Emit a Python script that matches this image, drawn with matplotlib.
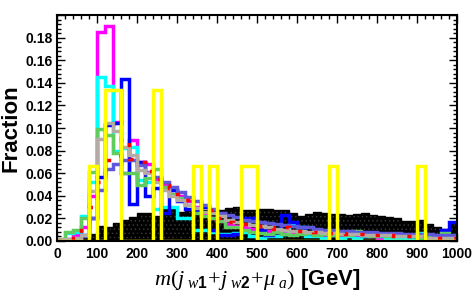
#!/usr/bin/env python3
"""Invariant mass m(j_w1 + j_w2 + mu_a) - normalised shapes, ROOT style."""
import numpy as np
import matplotlib
matplotlib.use("Agg")
import matplotlib.pyplot as plt
from matplotlib.ticker import MultipleLocator, FixedLocator

# 50 bins of 20 GeV, 0-1000
edges = np.arange(0, 1001, 20)

bkg_black = [0.0, 0.0, 0.001, 0.004, 0.006, 0.013, 0.012, 0.016, 0.019, 0.021,
             0.025, 0.025, 0.022, 0.028, 0.028, 0.026, 0.028, 0.026, 0.027, 0.028,
             0.027, 0.029, 0.030, 0.027, 0.027, 0.028, 0.028, 0.027, 0.027, 0.025,
             0.022, 0.024, 0.026, 0.025, 0.024, 0.024, 0.023, 0.024, 0.025, 0.023,
             0.022, 0.021, 0.020, 0.018, 0.018, 0.019, 0.015, 0.012, 0.011, 0.017]

sig_yellow = [0, 0, 0, 0, 0.0667, 0, 0.1333, 0.1333, 0, 0,
              0, 0, 0.1333, 0, 0, 0, 0, 0.0667, 0, 0.0667,
              0, 0, 0, 0.0667, 0.0667, 0, 0, 0, 0, 0,
              0, 0, 0, 0, 0.0667, 0, 0, 0, 0, 0,
              0, 0, 0, 0, 0, 0.0667, 0, 0, 0, 0]

sig_magenta = [0.0, 0.002, 0.005, 0.012, 0.040, 0.185, 0.190, 0.105, 0.060, 0.089,
               0.070, 0.068, 0.055, 0.050, 0.045, 0.040, 0.035, 0.030, 0.025, 0.020,
               0.018, 0.015, 0.013, 0.012, 0.011, 0.010, 0.009, 0.008, 0.008, 0.007,
               0.007, 0.006, 0.006, 0.005, 0.005, 0.005, 0.004, 0.004, 0.004, 0.004,
               0.003, 0.003, 0.003, 0.003, 0.003, 0.002, 0.002, 0.002, 0.002, 0.002]

sig_cyan = [0.0, 0.007, 0.008, 0.022, 0.052, 0.145, 0.137, 0.080, 0.082, 0.083,
            0.054, 0.052, 0.028, 0.030, 0.030, 0.020, 0.020, 0.010, 0.010, 0.008,
            0.006, 0.006, 0.007, 0.008, 0.004, 0.003, 0.004, 0.004, 0.006, 0.014,
            0.012, 0.004, 0.004, 0.003, 0.005, 0.003, 0.004, 0.003, 0.004, 0.005,
            0.004, 0.003, 0.002, 0.003, 0.003, 0.007, 0.003, 0.002, 0.002, 0.003]

sig_blue = [0.0, 0.0, 0.002, 0.005, 0.020, 0.057, 0.103, 0.104, 0.143, 0.033,
            0.070, 0.040, 0.047, 0.025, 0.045, 0.035, 0.028, 0.027, 0.030, 0.010,
            0.005, 0.005, 0.006, 0.020, 0.020, 0.010, 0.005, 0.008, 0.023, 0.017,
            0.012, 0.007, 0.006, 0.006, 0.005, 0.006, 0.007, 0.006, 0.005, 0.006,
            0.005, 0.006, 0.005, 0.005, 0.004, 0.003, 0.004, 0.004, 0.010, 0.017]

sig_red = [0.0, 0.0, 0.003, 0.010, 0.030, 0.052, 0.072, 0.075, 0.091, 0.073,
           0.070, 0.062, 0.055, 0.050, 0.047, 0.042, 0.036, 0.036, 0.030, 0.027,
           0.020, 0.017, 0.016, 0.015, 0.014, 0.013, 0.012, 0.011, 0.012, 0.010,
           0.009, 0.009, 0.008, 0.008, 0.007, 0.007, 0.006, 0.006, 0.006, 0.005,
           0.005, 0.005, 0.004, 0.004, 0.004, 0.004, 0.003, 0.003, 0.003, 0.003]

sig_green = [0.002, 0.008, 0.010, 0.020, 0.061, 0.099, 0.094, 0.078, 0.060, 0.060,
             0.050, 0.056, 0.064, 0.048, 0.042, 0.038, 0.032, 0.025, 0.022, 0.020,
             0.018, 0.012, 0.012, 0.010, 0.008, 0.007, 0.006, 0.008, 0.006, 0.005,
             0.006, 0.007, 0.005, 0.006, 0.005, 0.006, 0.005, 0.009, 0.005, 0.004,
             0.005, 0.004, 0.004, 0.005, 0.004, 0.003, 0.004, 0.003, 0.007, 0.004]

sig_slate = [0.0, 0.0, 0.001, 0.004, 0.020, 0.045, 0.064, 0.068, 0.072, 0.072,
             0.067, 0.061, 0.057, 0.052, 0.048, 0.043, 0.039, 0.035, 0.032, 0.028,
             0.025, 0.023, 0.021, 0.019, 0.018, 0.017, 0.016, 0.015, 0.014, 0.013,
             0.012, 0.012, 0.011, 0.010, 0.010, 0.009, 0.009, 0.008, 0.008, 0.008,
             0.007, 0.007, 0.007, 0.006, 0.006, 0.006, 0.006, 0.005, 0.005, 0.005]

sig_gray = [0.002, 0.002, 0.003, 0.005, 0.044, 0.090, 0.104, 0.097, 0.083, 0.076,
            0.063, 0.060, 0.052, 0.045, 0.040, 0.036, 0.032, 0.029, 0.026, 0.025,
            0.022, 0.019, 0.017, 0.015, 0.014, 0.013, 0.012, 0.011, 0.010, 0.009,
            0.009, 0.008, 0.008, 0.007, 0.007, 0.006, 0.006, 0.006, 0.005, 0.005,
            0.005, 0.005, 0.004, 0.004, 0.004, 0.004, 0.003, 0.003, 0.003, 0.003]

x_ticks = [0, 100, 200, 300, 400, 500, 600, 700, 800, 900, 1000]
y_ticks = [0.00, 0.02, 0.04, 0.06, 0.08, 0.10, 0.12, 0.14, 0.16, 0.18]

plt.rcParams["font.family"] = ["Liberation Sans", "DejaVu Sans"]
plt.rcParams["mathtext.fontset"] = "custom"
plt.rcParams["mathtext.rm"] = "Liberation Serif"
plt.rcParams["mathtext.it"] = "Liberation Serif:italic:normal"
plt.rcParams["mathtext.bf"] = "Liberation Sans:bold"
plt.rcParams["hatch.linewidth"] = 0.5

fig = plt.figure(figsize=(4.77, 3.07), dpi=100)
ax = fig.add_axes([57 / 477, 1 - 241 / 307, 400 / 477, 226 / 307])

LW = 2.5
# background: black with faint dotted fill
ax.stairs(bkg_black, edges, fill=True, facecolor="black", edgecolor="#3c3c3c",
          hatch="....", linewidth=0, zorder=1)
ax.stairs(bkg_black, edges, color="black", linewidth=1.0, zorder=1)

ax.stairs(sig_magenta, edges, color="#ff00ff", linewidth=LW, zorder=2)
ax.stairs(sig_cyan, edges, color="#00ffff", linewidth=LW, zorder=3)
ax.stairs(sig_blue, edges, color="#0000ff", linewidth=LW, zorder=4)
ax.stairs(sig_green, edges, color="#5fcc5f", linewidth=LW, zorder=5)
ax.stairs(sig_slate, edges, color="#5c58dc", linewidth=LW, zorder=6)
ax.stairs(sig_gray, edges, color="#b4aca4", linewidth=LW, zorder=7)
ax.stairs(sig_red, edges, color="#ff0000", linewidth=LW, linestyle=(0, (1.2, 3.5)),
          zorder=8)
ax.stairs(sig_yellow, edges, color="#ffff00", linewidth=LW, zorder=9)

ax.set_xlim(0, 1000)
ax.set_ylim(0, 0.2)
ax.xaxis.set_major_locator(FixedLocator(x_ticks))
ax.xaxis.set_minor_locator(MultipleLocator(20))
ax.yaxis.set_major_locator(FixedLocator(y_ticks + [0.2]))
ax.yaxis.set_minor_locator(MultipleLocator(0.004))
ax.set_xticklabels([str(t) for t in x_ticks], fontweight="bold")
ax.set_yticklabels([f"{t:.2f}" for t in y_ticks] + [""], fontweight="bold")

ax.tick_params(which="both", direction="in", top=True, right=True,
               width=1.0, labelsize=10)
ax.tick_params(which="major", length=5.5)
ax.tick_params(which="minor", length=2.8)
ax.tick_params(axis="x", pad=4)
ax.tick_params(axis="y", pad=3)
for s in ax.spines.values():
    s.set_linewidth(1.5)
    s.set_zorder(10)

ax.set_ylabel("Fraction", fontsize=16, fontweight="bold", labelpad=3)
ax.set_xlabel(r"$m(j_{\ w\mathbf{1}}\!+\!j_{\ w\mathbf{2}}\!+\!\mu_{\ a})$ [GeV]",
              fontsize=16, fontweight="bold", labelpad=5)

fig.savefig("out.png", dpi=100)
